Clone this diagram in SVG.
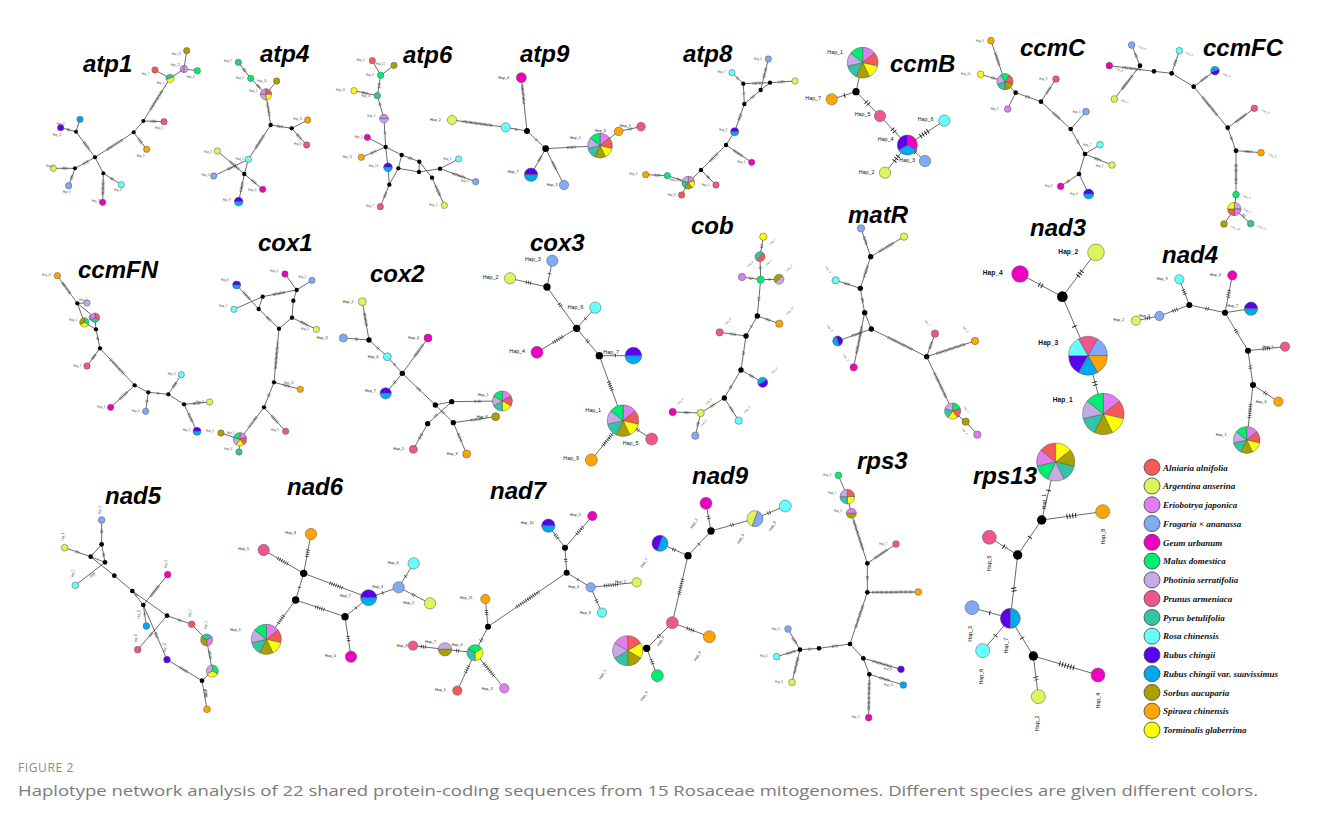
<svg xmlns="http://www.w3.org/2000/svg" width="1328" height="827" viewBox="0 0 1328 827">
<style>
text{font-family:"Liberation Sans",Arial,sans-serif}
.ttl{font-size:24px;font-weight:bold;font-style:italic;fill:#000}
.e{fill:none;stroke:#333;stroke-width:2.2}
.h{fill:none;stroke:#4a4a4a;stroke-width:9;stroke-dasharray:1.4 2.4}
.hm{fill:none;stroke:#222;stroke-width:11;stroke-dasharray:2 4.5}
.hb{fill:none;stroke:#111;stroke-width:15;stroke-dasharray:2.6 6}
.nd circle{stroke:#5a5a5a;stroke-width:1.6}
.nd circle.k{fill:#000;stroke:none}
.A{fill:#F55A5A}.B{fill:#DDF55A}.C{fill:#E07DF0}.D{fill:#80AAF5}.E{fill:#EE00C0}
.F{fill:#00EE70}.G{fill:#C5AAE5}.H{fill:#F0558F}.I{fill:#33C4A5}.J{fill:#66FFFF}
.K{fill:#5A00EE}.L{fill:#00A8F0}.M{fill:#AAA000}.N{fill:#FFA500}.O{fill:#FFFF00}
.lb{font-size:11px;fill:#222}
.lt{font-size:8px;fill:#555}
.lm{font-size:16px;fill:#111}
.lg{font-size:20px;font-weight:bold;fill:#111}
.leg circle{stroke:#444;stroke-width:0.8}
.leg text{font-family:"Liberation Serif","Times New Roman",serif;font-size:9px;font-weight:bold;font-style:italic;fill:#111}
.cap1{font-family:"Open Sans","Liberation Sans",sans-serif;font-size:12px;fill:#8a8a8a;letter-spacing:0.6px}
.cap2{font-family:"Open Sans","Liberation Sans",sans-serif;font-size:15px;fill:#7a7a7a}
</style>
<defs>
<!-- pie slices of radius 10, starting at 12 o'clock and running clockwise -->
<path id="s2" d="M0,0 L0,-10 A10,10 0 0 1 0,10 Z" stroke="#555" stroke-width="0.5" vector-effect="non-scaling-stroke"/>
<path id="s3" d="M0,0 L0,-10 A10,10 0 0 1 8.66,5 Z" stroke="#555" stroke-width="0.5" vector-effect="non-scaling-stroke"/>
<path id="s4" d="M0,0 L0,-10 A10,10 0 0 1 10,0 Z" stroke="#555" stroke-width="0.5" vector-effect="non-scaling-stroke"/>
<path id="s5" d="M0,0 L0,-10 A10,10 0 0 1 9.511,-3.09 Z" stroke="#555" stroke-width="0.5" vector-effect="non-scaling-stroke"/>
<path id="s6" d="M0,0 L0,-10 A10,10 0 0 1 8.66,-5 Z" stroke="#555" stroke-width="0.5" vector-effect="non-scaling-stroke"/>
<path id="s7" d="M0,0 L0,-10 A10,10 0 0 1 7.818,-6.235 Z" stroke="#555" stroke-width="0.5" vector-effect="non-scaling-stroke"/>
<!-- seven-species haplotype (Maleae group) -->
<g id="p7">
<use href="#s7" fill="#E07DF0"/>
<use href="#s7" fill="#F55A5A" transform="rotate(51.43)"/>
<use href="#s7" fill="#FFFF00" transform="rotate(102.86)"/>
<use href="#s7" fill="#AAA000" transform="rotate(154.29)"/>
<use href="#s7" fill="#33C4A5" transform="rotate(205.71)"/>
<use href="#s7" fill="#C5AAE5" transform="rotate(257.14)"/>
<use href="#s7" fill="#00EE70" transform="rotate(308.57)"/>
</g>
<!-- Rubus chingii / var. suavissimus shared haplotype -->
<g id="kl">
<use href="#s2" fill="#5A00EE" transform="rotate(-90)"/>
<use href="#s2" fill="#00A8F0" transform="rotate(90)"/>
</g>
</defs>

<rect width="1328" height="827" fill="#fff"/>

<!-- gene titles -->
<g id="titles" class="ttl">
<text class="ttl" x="83" y="72">atp1</text>
<text class="ttl" x="260" y="62">atp4</text>
<text class="ttl" x="403" y="63">atp6</text>
<text class="ttl" x="520" y="62">atp9</text>
<text class="ttl" x="683" y="62">atp8</text>
<text class="ttl" x="890" y="72">ccmB</text>
<text class="ttl" x="1020" y="56">ccmC</text>
<text class="ttl" x="1203" y="56">ccmFC</text>
<text class="ttl" x="78" y="278">ccmFN</text>
<text class="ttl" x="258" y="251">cox1</text>
<text class="ttl" x="370" y="282">cox2</text>
<text class="ttl" x="530" y="251">cox3</text>
<text class="ttl" x="691" y="234">cob</text>
<text class="ttl" x="848" y="223">matR</text>
<text class="ttl" x="1030" y="236">nad3</text>
<text class="ttl" x="1162" y="263">nad4</text>
<text class="ttl" x="105" y="504">nad5</text>
<text class="ttl" x="287" y="495">nad6</text>
<text class="ttl" x="490" y="499">nad7</text>
<text class="ttl" x="692" y="484">nad9</text>
<text class="ttl" x="857" y="469">rps3</text>
<text class="ttl" x="973" y="484">rps13</text>
</g>

<!-- ===== atp1, atp4 ===== -->
<g transform="translate(40 40) scale(0.333333)">
<g id="net-atp1">
<g id="atp1-links">
<path class="e" d="M440,32L432,87M472,92L432,87M432,87L390,115M345,90L390,115M390,115L310,243M310,243L372,245M310,243L281,277M281,277L320,328M281,277L165,352M165,352L108,275M108,275L120,238M108,275L62,263M165,352L105,385M105,385L40,385M105,385L86,437M165,352L190,400M190,400L244,434M190,400L188,487"/>
<path class="h" d="M366,153L330,211M332,244L350,244M295,295L306,310M246,300L200,330M148,329L131,306M90,270L80,268M144,364L129,372M82,385L66,385M97,406L93,419M212,414L222,420M189.5,422L188.5,465"/>
</g>
<g class="nd">
<circle class="M" cx="440" cy="32" r="9.5"/>
<g transform="translate(432 87) scale(1.1)"><use href="#s2" fill="#C5AAE5"/><use href="#s2" fill="#E07DF0" transform="rotate(180)"/></g>
<circle class="F" cx="472" cy="92" r="9.5"/>
<circle class="A" cx="345" cy="90" r="9.5"/>
<g transform="translate(390 115) scale(1.2)"><use href="#s2" fill="#33C4A5" transform="rotate(-110)"/><use href="#s2" fill="#FFFF00" transform="rotate(70)"/></g>
<circle class="k" cx="310" cy="243" r="6"/><circle class="k" cx="281" cy="277" r="6"/><circle class="k" cx="165" cy="352" r="6"/>
<circle class="k" cx="108" cy="275" r="6"/><circle class="k" cx="105" cy="385" r="6"/><circle class="k" cx="190" cy="400" r="6"/>
<circle class="H" cx="372" cy="245" r="9.5"/><circle class="N" cx="320" cy="328" r="9.5"/>
<circle class="L" cx="120" cy="238" r="9.5"/><circle class="K" cx="62" cy="263" r="9.5"/>
<circle class="B" cx="40" cy="385" r="9.5"/><circle class="D" cx="86" cy="437" r="9.5"/>
<circle class="J" cx="244" cy="434" r="9.5"/><circle class="E" cx="188" cy="487" r="9.5"/>
</g>
<g class="lt">
<text class="lt" x="395" y="44">Hap_13</text><text class="lt" x="392" y="77">Hap_12</text>
<text class="lt" x="305" y="105">Hap_7</text><text class="lt" x="350" y="132">Hap_1</text>
<text class="lt" x="440" y="114">Hap_6</text><text class="lt" x="345" y="268">Hap_5</text>
<text class="lt" x="290" y="350">Hap_9</text><text class="lt" x="50" y="254">Hap_4</text>
<text class="lt" x="38" y="287">Hap_11</text><text class="lt" x="18" y="380">Hap_2</text>
<text class="lt" x="68" y="460">Hap_3</text><text class="lt" x="222" y="454">Hap_8</text>
<text class="lt" x="155" y="487">Hap_10</text>
</g>
</g>
<g id="net-atp4">
<g id="atp4-links">
<path class="e" d="M595,67L632,115M632,115L678,163M710,123L678,163M678,163L692,255M692,255L755,265M755,265L803,240M755,265L800,315M692,255L625,358M625,358L613,402M532,333L613,402M521,408L625,358M613,402L668,448M613,402L596,485"/>
<path class="h" d="M610,86L617,96M651,135L660,144M682,191L688,227M711,258L730,261M771,283L784,298M672,286L645,327M569,364L597,388M563,388L589,376M635,420L649,432M608,427L602,456"/>
</g>
<g class="nd">
<circle class="I" cx="595" cy="67" r="9.5"/><circle class="F" cx="632" cy="115" r="9.5"/><circle class="M" cx="710" cy="123" r="9.5"/>
<g transform="translate(678 163) scale(1.7)"><use href="#s4" fill="#F55A5A"/><use href="#s4" fill="#FFFF00" transform="rotate(90)"/><use href="#s4" fill="#C5AAE5" transform="rotate(180)"/><use href="#s4" fill="#E07DF0" transform="rotate(270)"/></g>
<circle class="k" cx="692" cy="255" r="6.5"/><circle class="k" cx="755" cy="265" r="6.5"/><circle class="k" cx="613" cy="402" r="6.5"/>
<circle class="N" cx="803" cy="240" r="9.5"/><circle class="H" cx="800" cy="315" r="9.5"/><circle class="J" cx="625" cy="358" r="9.5"/>
<circle class="B" cx="532" cy="333" r="9.5"/><circle class="D" cx="521" cy="408" r="9.5"/><circle class="E" cx="668" cy="448" r="9.5"/>
<use href="#kl" transform="translate(596 485) scale(1.3)"/>
</g>
<g class="lt">
<text class="lt" x="552" y="67">Hap_7</text><text class="lt" x="588" y="117">Hap_6</text>
<text class="lt" x="652" y="125">Hap_10</text><text class="lt" x="628" y="155">Hap_1</text>
<text class="lt" x="760" y="240">Hap_11</text><text class="lt" x="762" y="316">Hap_8</text>
<text class="lt" x="588" y="360">Hap_2</text><text class="lt" x="492" y="340">Hap_3</text>
<text class="lt" x="485" y="407">Hap_5</text><text class="lt" x="625" y="452">Hap_4</text>
<text class="lt" x="548" y="484">Hap_9</text>
</g>
</g>
</g>

<!-- ===== atp6, atp9 ===== -->
<g transform="translate(330 40) scale(0.333333)">
<g id="net-atp6">
<g id="atp6-links">
<path class="e" d="M127,62L152,106M192,76L152,106M152,106L142,167M72,152L142,167M142,167L162,236M162,236L167,321M112,292L167,321M94,352L167,321M167,321L215,345M167,321L174,382M174,382L178,434M215,345L268,365M215,345L205,385M205,385L267,396M205,385L178,434M268,365L267,396M268,365L306,413M267,396L330,386M330,386L386,357M330,386L437,425M306,413L343,496M178,434L151,500"/>
<path class="h" d="M148,130L147,143M96,157L114,161M149,191L151,198M165,275L165,283M123,340L138,333M367,400L405,413M317,438L330,467M169,457L162,474M236,353L247,357"/>
</g>
<g class="nd">
<circle class="A" cx="127" cy="62" r="9.5"/><circle class="M" cx="192" cy="76" r="9.5"/><circle class="F" cx="152" cy="106" r="9.5"/>
<circle class="O" cx="72" cy="152" r="9.5"/><circle class="I" cx="142" cy="167" r="9.5"/>
<g transform="translate(162 236) scale(1.3)"><use href="#s2" fill="#E07DF0" transform="rotate(-90)"/><use href="#s2" fill="#C5AAE5" transform="rotate(90)"/></g>
<circle class="E" cx="112" cy="292" r="9.5"/><circle class="k" cx="167" cy="321" r="6.5"/><circle class="N" cx="94" cy="352" r="9.5"/>
<circle class="k" cx="215" cy="345" r="6.5"/>
<use href="#kl" transform="translate(174 382) scale(1.3)"/>
<circle class="k" cx="205" cy="385" r="6.5"/><circle class="k" cx="268" cy="365" r="6.5"/><circle class="k" cx="267" cy="396" r="6.5"/>
<circle class="J" cx="386" cy="357" r="9.5"/><circle class="k" cx="330" cy="386" r="6.5"/><circle class="k" cx="306" cy="413" r="6.5"/>
<circle class="D" cx="437" cy="425" r="9.5"/><circle class="k" cx="178" cy="434" r="6.5"/>
<circle class="H" cx="151" cy="500" r="9.5"/><circle class="B" cx="343" cy="496" r="9.5"/>
</g>
<g class="lt">
<text class="lt" x="80" y="64">Hap_1</text><text class="lt" x="138" y="76">Hap_11</text>
<text class="lt" x="108" y="108">Hap_9</text><text class="lt" x="18" y="154">Hap_12</text>
<text class="lt" x="94" y="170">Hap_10</text><text class="lt" x="112" y="232">Hap_3</text>
<text class="lt" x="74" y="294">Hap_5</text><text class="lt" x="38" y="354">Hap_13</text>
<text class="lt" x="116" y="380">Hap_14</text><text class="lt" x="340" y="360">Hap_4</text>
<text class="lt" x="393" y="427">Hap_6</text><text class="lt" x="298" y="497">Hap_2</text>
<text class="lt" x="108" y="502">Hap_7</text>
</g>
</g>
<g id="net-atp9">
<g id="atp9-links">
<path class="e" d="M574,113L591,273M366,240L527,262M527,262L591,273M591,273L647,326M647,326L810,317M647,326L603,404M647,326L702,435M810,317L866,274M866,274L933,260"/>
<path class="h" d="M576.5,137L582.5,193M398,244L487,256.5M556,268L562,269M617,298L621,302M712,322.5L737,321M634,349L625,365M666,364L680,391M896,268L906,266"/>
</g>
<g class="nd">
<circle class="E" cx="574" cy="113" r="15"/><circle class="B" cx="366" cy="240" r="14"/><circle class="J" cx="527" cy="262" r="14"/>
<circle class="k" cx="591" cy="273" r="9"/><circle class="k" cx="647" cy="326" r="10"/>
<use href="#p7" transform="translate(810 317) scale(3.7)"/>
<circle class="N" cx="866" cy="274" r="13"/><circle class="H" cx="933" cy="260" r="13"/>
<use href="#kl" transform="translate(603 404) scale(2)"/>
<circle class="D" cx="702" cy="435" r="14"/>
</g>
<g class="lb">
<text class="lb" x="505" y="117">Hap_4</text><text class="lb" x="300" y="243">Hap_2</text>
<text class="lb" x="720" y="296">Hap_1</text><text class="lb" x="795" y="276">Hap_6</text>
<text class="lb" x="870" y="262">Hap_5</text><text class="lb" x="533" y="400">Hap_7</text>
<text class="lb" x="650" y="437">Hap_3</text>
</g>
</g>
</g>

<!-- ===== atp8, ccmB ===== -->
<g transform="translate(620 30) scale(0.333333)">
<g id="net-atp8">
<g id="atp8-links">
<path class="e" d="M445,87L422,180M336,128L370,161M370,161L450,158M450,158L525,153M370,161L373,222M450,158L422,180M422,180L373,222M373,222L344,305M344,305L318,345M318,345L395,397M318,345L243,420M243,420L288,465M243,420L205,458M205,458L185,495M205,458L142,437M142,437L77,434"/>
<path class="h" d="M438,115L431,143M351,143L357,148M398,160L422,159M476,156L495,155M371,188L372,195M402,197L393,205M363,251L356,272M341,361L368,379M292,371L269,394M261,438L268,445M183,451L170,446M119,436L103,435"/>
</g>
<g class="nd">
<circle class="D" cx="445" cy="87" r="9.5"/><circle class="J" cx="336" cy="128" r="9.5"/>
<circle class="k" cx="370" cy="161" r="6.5"/><circle class="k" cx="450" cy="158" r="6.5"/>
<circle class="B" cx="525" cy="153" r="9.5"/><circle class="k" cx="422" cy="180" r="6.5"/><circle class="k" cx="373" cy="222" r="6.5"/>
<use href="#kl" transform="translate(344 305) scale(1.2)"/>
<circle class="k" cx="318" cy="345" r="6.5"/><circle class="E" cx="395" cy="397" r="9.5"/>
<circle class="k" cx="243" cy="420" r="6.5"/><circle class="H" cx="288" cy="465" r="9.5"/>
<g transform="translate(205 458) scale(1.9)"><use href="#s5" fill="#E07DF0"/><use href="#s5" fill="#FFFF00" transform="rotate(72)"/><use href="#s5" fill="#AAA000" transform="rotate(144)"/><use href="#s5" fill="#33C4A5" transform="rotate(216)"/><use href="#s5" fill="#C5AAE5" transform="rotate(288)"/></g>
<circle class="A" cx="185" cy="495" r="9.5"/><circle class="F" cx="142" cy="437" r="9.5"/><circle class="N" cx="77" cy="434" r="9.5"/>
</g>
<g class="lt">
<text class="lt" x="402" y="89">Hap_6</text><text class="lt" x="293" y="130">Hap_7</text>
<text class="lt" x="298" y="302">Hap_2</text><text class="lt" x="352" y="399">Hap_5</text>
<text class="lt" x="245" y="467">Hap_4</text><text class="lt" x="143" y="497">Hap_8</text>
<text class="lt" x="28" y="436">Hap_9</text><text class="lt" x="150" y="452">Hap_1</text>
</g>
</g>
<g id="net-ccmB">
<g id="ccmB-links">
<path class="e" d="M728,98L708,185M708,185L635,208M708,185L780,258M780,258L862,345M862,345L973,272M862,345L915,393M862,345L795,428"/>
<path class="hb" d="M675,196L668,198M738,215L748,225M817,297L829,310M901,319L925,303M885,366L890,370M835,378L822,395"/>
</g>
<g class="nd">
<use href="#p7" transform="translate(728 98) scale(4.6)"/>
<circle class="k" cx="708" cy="185" r="11"/>
<circle class="N" cx="635" cy="208" r="17"/><circle class="H" cx="780" cy="258" r="17"/>
<g transform="translate(862 345) scale(3)"><use href="#s3" fill="#EE00C0"/><use href="#s3" fill="#00A8F0" transform="rotate(120)"/><use href="#s3" fill="#5A00EE" transform="rotate(240)"/></g>
<circle class="J" cx="973" cy="272" r="17"/><circle class="D" cx="915" cy="393" r="17"/><circle class="B" cx="795" cy="428" r="17"/>
</g>
<g class="lm">
<text class="lm" x="622" y="72">Hap_1</text><text class="lm" x="556" y="211">Hap_7</text>
<text class="lm" x="704" y="259">Hap_5</text><text class="lm" x="773" y="334">Hap_4</text>
<text class="lm" x="893" y="274">Hap_6</text><text class="lm" x="838" y="396">Hap_3</text>
<text class="lm" x="716" y="431">Hap_2</text>
</g>
</g>
</g>

<!-- ===== ccmC, ccmFC ===== -->
<g transform="translate(950 30) scale(0.333333)">
<g id="net-ccmC">
<g id="ccmC-links">
<path class="e" d="M123,32L165,155M92,133L165,155M165,155L197,188M197,188L173,237M197,188L273,215M273,215L318,147M273,215L362,297M362,297L408,245M362,297L405,372M405,372L450,344M405,372L486,405M405,372L387,432M387,432L332,469M387,432L416,492"/>
<path class="h" d="M136,69L148,106M125,143L136,146M227,199L239,203M289,191L302,171M309,248L331,268M381,331L386,339M433,384L454,392M357,452L349,458"/>
</g>
<g class="nd">
<circle class="N" cx="123" cy="32" r="10"/><circle class="O" cx="92" cy="133" r="10"/>
<g transform="translate(165 155) scale(2.4)"><use href="#s5" fill="#00EE70" transform="rotate(-36)"/><use href="#s5" fill="#F55A5A" transform="rotate(36)"/><use href="#s5" fill="#AAA000" transform="rotate(108)"/><use href="#s5" fill="#33C4A5" transform="rotate(180)"/><use href="#s5" fill="#C5AAE5" transform="rotate(252)"/></g>
<circle class="k" cx="197" cy="188" r="7"/><circle class="C" cx="173" cy="237" r="10"/>
<circle class="k" cx="273" cy="215" r="7"/><circle class="H" cx="318" cy="147" r="10"/>
<circle class="k" cx="362" cy="297" r="7"/><circle class="D" cx="408" cy="245" r="10"/>
<circle class="k" cx="405" cy="372" r="7"/><circle class="J" cx="450" cy="344" r="10"/><circle class="B" cx="486" cy="405" r="10"/>
<circle class="k" cx="387" cy="432" r="7"/><circle class="E" cx="332" cy="469" r="10"/>
<use href="#kl" transform="translate(416 492) scale(1.5)"/>
</g>
<g class="lt">
<text class="lt" x="78" y="35">Hap_9</text><text class="lt" x="33" y="136">Hap_10</text>
<text class="lt" x="268" y="150">Hap_8</text><text class="lt" x="122" y="240">Hap_3</text>
<text class="lt" x="368" y="248">Hap_4</text><text class="lt" x="400" y="347">Hap_7</text>
<text class="lt" x="437" y="410">Hap_2</text><text class="lt" x="285" y="472">Hap_5</text>
<text class="lt" x="360" y="495">Hap_6</text>
</g>
</g>
<g id="net-ccmFC">
<g id="ccmFC-links">
<path class="e" d="M478,107L612,124M545,45L570,107M570,107L493,207M612,124L665,130M665,130L688,62M665,130L731,170M731,170L795,122M731,170L833,293M833,293L913,235M833,293L858,362M858,362L933,368M858,362L858,494M858,494L853,537M853,537L822,582M853,537L902,581"/>
<path class="h" d="M518,112L572,119M555,70L560,82M547,137L516,177M673,106L679,88M753,153L773,139M757,201L802,256M857,276L889,252M843,321L846,331M884,364L907,366M858,402L858,461M878,554L885,561"/>
</g>
<g class="nd">
<circle class="D" cx="545" cy="45" r="10"/><circle class="J" cx="688" cy="62" r="10"/><circle class="E" cx="478" cy="107" r="10"/>
<circle class="k" cx="570" cy="107" r="7"/><circle class="k" cx="612" cy="124" r="7"/><circle class="k" cx="665" cy="130" r="7"/>
<circle class="B" cx="493" cy="207" r="10"/>
<use href="#kl" transform="translate(795 122) scale(1.3) rotate(160)"/>
<circle class="k" cx="731" cy="170" r="7"/><circle class="H" cx="913" cy="235" r="10"/>
<circle class="k" cx="833" cy="293" r="7"/><circle class="k" cx="858" cy="362" r="7"/>
<circle class="N" cx="933" cy="368" r="10"/><circle class="F" cx="858" cy="494" r="10"/>
<g transform="translate(853 537) scale(2)"><use href="#s4" fill="#C5AAE5"/><use href="#s4" fill="#E07DF0" transform="rotate(90)"/><use href="#s4" fill="#F55A5A" transform="rotate(180)"/><use href="#s4" fill="#FFFF00" transform="rotate(270)"/></g>
<circle class="M" cx="822" cy="582" r="10"/><circle class="I" cx="902" cy="581" r="10"/>
</g>
<g class="lt">
<text class="lt" transform="translate(565 52) rotate(20)">Hap_6</text>
<text class="lt" transform="translate(706 70) rotate(20)">Hap_5</text>
<text class="lt" transform="translate(496 117) rotate(20)">Hap_4</text>
<text class="lt" transform="translate(512 212) rotate(20)">Hap_2</text>
<text class="lt" transform="translate(818 134) rotate(20)">Hap_9</text>
<text class="lt" transform="translate(935 243) rotate(20)">Hap_8</text>
<text class="lt" transform="translate(955 375) rotate(20)">Hap_3</text>
<text class="lt" transform="translate(878 500) rotate(20)">Hap_7</text>
<text class="lt" transform="translate(880 540) rotate(20)">Hap_1</text>
<text class="lt" transform="translate(842 592) rotate(20)">Hap_10</text>
<text class="lt" transform="translate(922 590) rotate(20)">Hap_11</text>
</g>
</g>
</g>

<!-- ===== ccmFN, cox1 ===== -->
<g transform="translate(40 240) scale(0.333333)">
<g id="net-ccmFN">
<g id="ccmFN-links">
<path class="e" d="M52,107L112,190M112,190L141,189M112,190L165,233M112,190L133,247M133,247L168,268M165,233L168,268M168,268L180,325M180,325L141,378M180,325L284,436M284,436L212,502M284,436L325,457M325,457L317,514M325,457L385,463M385,463L424,404M385,463L432,493M432,493L509,486M432,493L471,574"/>
<path class="h" d="M67,128L91,161M172,291L175,302M166,344L155,359M211,358L253,403M262,456L237,479M321,480L320,488M352,460L358,460M399,442L408,428M459,491L482,489M446,521L457,546"/>
</g>
<g class="nd">
<circle class="N" cx="52" cy="107" r="9.5"/><circle class="k" cx="112" cy="190" r="6.5"/><circle class="G" cx="141" cy="189" r="9.5"/>
<g transform="translate(133 247) scale(1.4)"><use href="#s3" fill="#00EE70"/><use href="#s3" fill="#FFFF00" transform="rotate(120)"/><use href="#s3" fill="#AAA000" transform="rotate(240)"/></g>
<circle class="C" cx="155" cy="233" r="8"/>
<g transform="translate(165 233) scale(1.4)"><use href="#s3" fill="#F55A5A"/><use href="#s3" fill="#33C4A5" transform="rotate(120)"/><use href="#s3" fill="#E07DF0" transform="rotate(240)"/></g>
<circle class="k" cx="168" cy="268" r="6.5"/><circle class="k" cx="180" cy="325" r="6.5"/><circle class="H" cx="141" cy="378" r="9.5"/>
<circle class="k" cx="284" cy="436" r="6.5"/><circle class="E" cx="212" cy="502" r="9.5"/>
<circle class="k" cx="325" cy="457" r="6.5"/><circle class="D" cx="317" cy="514" r="9.5"/>
<circle class="k" cx="385" cy="463" r="6.5"/><circle class="J" cx="424" cy="404" r="9.5"/>
<circle class="k" cx="432" cy="493" r="6.5"/><circle class="B" cx="509" cy="486" r="9.5"/>
<use href="#kl" transform="translate(471 574) scale(1.2)"/>
</g>
<g class="lt">
<text class="lt" x="6" y="109">Hap_11</text><text class="lt" x="118" y="182">Hap_4</text>
<text class="lt" x="88" y="242">Hap_1</text><text class="lt" x="100" y="380">Hap_7</text>
<text class="lt" x="172" y="504">Hap_3</text><text class="lt" x="275" y="516">Hap_6</text>
<text class="lt" x="383" y="406">Hap_9</text><text class="lt" x="468" y="488">Hap_8</text>
<text class="lt" x="428" y="574">Hap_5</text>
</g>
</g>
<g id="net-cox1">
<g id="cox1-links">
<path class="e" d="M590,135L656,207M582,208L668,170M668,170L656,207M668,170L770,150M770,150L735,102M770,150L816,121M770,150L760,182M760,182L756,233M756,233L829,268M756,233L717,266M656,207L717,266M717,266L702,427M702,427L781,448M702,427L672,502M672,502L737,574M672,502L600,598M600,598L543,579M600,598L597,636"/>
<path class="h" d="M610,157L630,178M699,164L734,157M782,245L803,256M680,231L692,243M713,306L706,387M730,434L749,440M688,461L684,472M695,527L714,549M650,531L625,564"/>
</g>
<g class="nd">
<circle class="E" cx="735" cy="102" r="9.5"/><circle class="D" cx="816" cy="121" r="9.5"/>
<use href="#kl" transform="translate(590 135) scale(1.2)"/>
<circle class="k" cx="668" cy="170" r="6.5"/><circle class="k" cx="770" cy="150" r="6.5"/><circle class="k" cx="760" cy="182" r="6.5"/>
<circle class="J" cx="582" cy="208" r="9.5"/><circle class="k" cx="656" cy="207" r="6.5"/><circle class="k" cx="756" cy="233" r="6.5"/>
<circle class="k" cx="717" cy="266" r="6.5"/><circle class="B" cx="829" cy="268" r="9.5"/>
<circle class="k" cx="702" cy="427" r="6.5"/><circle class="N" cx="781" cy="448" r="9.5"/>
<circle class="k" cx="672" cy="502" r="6.5"/><circle class="H" cx="737" cy="574" r="9.5"/>
<g transform="translate(600 598) scale(2)"><use href="#s5" fill="#E07DF0"/><use href="#s5" fill="#F55A5A" transform="rotate(72)"/><use href="#s5" fill="#FFFF00" transform="rotate(144)"/><use href="#s5" fill="#C5AAE5" transform="rotate(216)"/><use href="#s5" fill="#00EE70" transform="rotate(288)"/></g>
<circle class="M" cx="543" cy="579" r="9.5"/><circle class="I" cx="597" cy="636" r="9.5"/>
</g>
<g class="lt">
<text class="lt" x="543" y="122">Hap_8</text><text class="lt" x="538" y="202">Hap_7</text>
<text class="lt" x="690" y="97">Hap_4</text><text class="lt" x="775" y="114">Hap_2</text>
<text class="lt" x="783" y="270">Hap_3</text><text class="lt" x="733" y="432">Hap_10</text>
<text class="lt" x="693" y="572">Hap_5</text><text class="lt" x="498" y="575">Hap_9</text>
<text class="lt" x="553" y="630">Hap_6</text><text class="lt" x="560" y="582">Hap_1</text>
</g>
</g>
</g>

<!-- ===== cox2, cox3 ===== -->
<g transform="translate(330 240) scale(0.333333)">
<g id="net-cox2">
<g id="cox2-links">
<path class="e" d="M97,185L117,300M40,294L117,300M117,300L172,350M172,350L217,400M294,294L217,400M217,400L167,460M217,400L316,495M316,495L365,485M365,485L517,483M316,495L370,548M370,548L497,530M370,548L410,642M365,485L293,551M293,551L250,628"/>
<path class="h" d="M103,219L110,260M75,297L86,298M142,323L147,327M192,372L197,378M279,315L252,352M197,424L190,432M261,443L272,453M433,484L456,484M335,514L343,522M421,541L459,535M384,581L394,604M322,523L311,533M276,582L267,597"/>
</g>
<g class="nd">
<circle class="B" cx="97" cy="185" r="12"/><circle class="D" cx="40" cy="294" r="12"/><circle class="k" cx="117" cy="300" r="8"/>
<circle class="J" cx="172" cy="350" r="12"/><circle class="E" cx="294" cy="294" r="12"/><circle class="k" cx="217" cy="400" r="8"/>
<use href="#kl" transform="translate(167 460) scale(1.7)"/>
<circle class="k" cx="316" cy="495" r="8"/><circle class="k" cx="365" cy="485" r="8"/>
<g transform="translate(517 483) scale(3)"><use href="#s6" fill="#E07DF0"/><use href="#s6" fill="#F55A5A" transform="rotate(60)"/><use href="#s6" fill="#FFFF00" transform="rotate(120)"/><use href="#s6" fill="#33C4A5" transform="rotate(180)"/><use href="#s6" fill="#C5AAE5" transform="rotate(240)"/><use href="#s6" fill="#00EE70" transform="rotate(300)"/></g>
<circle class="M" cx="497" cy="530" r="12"/><circle class="k" cx="370" cy="548" r="8"/><circle class="k" cx="293" cy="551" r="8"/>
<circle class="H" cx="250" cy="628" r="12"/><circle class="N" cx="410" cy="642" r="12"/>
</g>
<g class="lb">
<text class="lb" x="38" y="188">Hap_2</text><text class="lb" x="-40" y="297">Hap_3</text>
<text class="lb" x="113" y="353">Hap_6</text><text class="lb" x="235" y="297">Hap_4</text>
<text class="lb" x="105" y="456">Hap_7</text><text class="lb" x="443" y="468">Hap_1</text>
<text class="lb" x="440" y="533">Hap_8</text><text class="lb" x="190" y="631">Hap_5</text>
<text class="lb" x="350" y="644">Hap_9</text>
</g>
</g>
<g id="net-cox3">
<g id="cox3-links">
<path class="e" d="M667,62L651,141M540,115L651,141M651,141L740,265M740,265L796,203M740,265L621,337M740,265L808,347M808,347L910,347M808,347L879,542M879,542L965,597M879,542L784,660"/>
<path class="hm" d="M659,100L658,106M588,126L604,130M687,191L695,202M765,237L770,232M698,290L669,308M770,300L776,307M856,347L860,347M836,425L847,454M914,564L927,573M846,583L817,619"/>
</g>
<g class="nd">
<circle class="D" cx="667" cy="62" r="17"/><circle class="B" cx="540" cy="115" r="17"/><circle class="k" cx="651" cy="141" r="11"/>
<circle class="J" cx="796" cy="203" r="17"/><circle class="k" cx="740" cy="265" r="11"/><circle class="E" cx="621" cy="337" r="18"/>
<circle class="k" cx="808" cy="347" r="11"/>
<use href="#kl" transform="translate(910 347) scale(2.5)"/>
<use href="#p7" transform="translate(879 542) scale(4.7)"/>
<circle class="H" cx="965" cy="597" r="18"/><circle class="N" cx="784" cy="660" r="18"/>
</g>
<g class="lm">
<text class="lm" x="585" y="64">Hap_3</text><text class="lm" x="458" y="116">Hap_2</text>
<text class="lm" x="713" y="206">Hap_6</text><text class="lm" x="538" y="339">Hap_4</text>
<text class="lm" x="820" y="342">Hap_7</text><text class="lm" x="766" y="516">Hap_1</text>
<text class="lm" x="878" y="614">Hap_5</text><text class="lm" x="700" y="661">Hap_9</text>
</g>
</g>
</g>

<!-- ===== cob, matR ===== -->
<g transform="translate(660 230) scale(0.333333)">
<g id="net-cob">
<g id="cob-links">
<path class="e" d="M310,20L300,80M300,80L302,149M246,141L302,149M302,149L357,148M302,149L292,258M292,258L358,281M292,258L258,318M258,318L179,307M258,318L243,420M243,420L308,457M243,420L193,504M193,504L236,572M193,504L122,549M122,549L38,546M122,549L106,617"/>
<path class="h" d="M306,44L305,55M301,110L301,118M268,144L279,146M326,148L333,148M297,202L296,213M318,267L331,271M275,288L273,292M211,311L227,314M251,365L249,375M269,435L282,442M215,467L210,475M210,531L219,545M164,522L151,531M88,548L72,547M115,576L112,590"/>
</g>
<g class="nd">
<circle class="O" cx="310" cy="20" r="11"/>
<g transform="translate(300 80) scale(1.5)"><use href="#s2" fill="#33C4A5" transform="rotate(-135)"/><use href="#s2" fill="#F55A5A" transform="rotate(45)"/></g>
<circle class="C" cx="246" cy="141" r="11"/><circle class="F" cx="302" cy="149" r="11"/>
<g transform="translate(357 148) scale(1.5)"><use href="#s2" fill="#AAA000" transform="rotate(-135)"/><use href="#s2" fill="#C5AAE5" transform="rotate(45)"/></g>
<circle class="k" cx="292" cy="258" r="8"/><circle class="N" cx="358" cy="281" r="11"/><circle class="H" cx="179" cy="307" r="11"/>
<circle class="k" cx="258" cy="318" r="8"/><circle class="k" cx="243" cy="420" r="8"/>
<g transform="translate(308 457) scale(1.5)"><use href="#s2" fill="#00A8F0" transform="rotate(-120)"/><use href="#s2" fill="#5A00EE" transform="rotate(60)"/></g>
<circle class="k" cx="193" cy="504" r="8"/><circle class="J" cx="236" cy="572" r="11"/><circle class="B" cx="122" cy="549" r="11"/>
<circle class="E" cx="38" cy="546" r="11"/><circle class="D" cx="106" cy="617" r="11"/>
</g>
<g class="lt">
<text class="lt" transform="translate(332 45) rotate(-50)">Hap_7</text>
<text class="lt" transform="translate(265 112) rotate(-50)">Hap_5</text>
<text class="lt" transform="translate(320 108) rotate(-50)">Hap_1</text>
<text class="lt" transform="translate(382 125) rotate(-50)">Hap_8</text>
<text class="lt" transform="translate(382 255) rotate(-50)">Hap_10</text>
<text class="lt" transform="translate(198 285) rotate(-50)">Hap_9</text>
<text class="lt" transform="translate(337 432) rotate(-50)">Hap_4</text>
<text class="lt" transform="translate(55 525) rotate(-50)">Hap_3</text>
<text class="lt" transform="translate(140 525) rotate(-50)">Hap_2</text>
<text class="lt" transform="translate(125 590) rotate(-50)">Hap_6</text>
<text class="lt" transform="translate(255 550) rotate(-50)">Hap_11</text>
</g>
</g>
<g id="net-matR">
<g id="matR-links">
<path class="e" d="M603,-5L632,80M632,80L732,20M632,80L601,175M601,175L527,151M601,175L614,248M614,248L634,297M614,248L581,412M634,297L533,333M634,297L800,380M800,380L825,311M800,380L945,333M800,380L878,543M878,543L917,575M917,575L952,614"/>
<path class="h" d="M612,20L620,45M657,65L702,38M623,108L612,142M553,159L571,165M606,204L609,219M606,289L589,371M604,308L574,318M684,322L759,359M809,356L816,335M829,371L916,342M823,429L858,502"/>
</g>
<g class="nd">
<circle class="D" cx="603" cy="-5" r="11"/><circle class="B" cx="732" cy="20" r="11"/><circle class="k" cx="632" cy="80" r="8"/>
<circle class="J" cx="527" cy="151" r="11"/><circle class="k" cx="601" cy="175" r="8"/><circle class="k" cx="614" cy="248" r="8"/><circle class="k" cx="634" cy="297" r="8"/>
<use href="#kl" transform="translate(533 333) scale(1.5) rotate(70)"/>
<circle class="E" cx="581" cy="412" r="11"/><circle class="k" cx="800" cy="380" r="8"/>
<circle class="H" cx="825" cy="311" r="11"/><circle class="N" cx="945" cy="333" r="11"/>
<g transform="translate(878 543) scale(2.4)"><use href="#s5" fill="#00EE70"/><use href="#s5" fill="#F55A5A" transform="rotate(72)"/><use href="#s5" fill="#FFFF00" transform="rotate(144)"/><use href="#s5" fill="#33C4A5" transform="rotate(216)"/><use href="#s5" fill="#C5AAE5" transform="rotate(288)"/></g>
<circle class="M" cx="917" cy="575" r="11"/><circle class="C" cx="952" cy="614" r="11"/>
</g>
<g class="lt">
<text class="lt" transform="translate(495 112) rotate(50)">Hap_6</text>
<text class="lt" transform="translate(500 288) rotate(50)">Hap_9</text>
<text class="lt" transform="translate(548 376) rotate(50)">Hap_2</text>
<text class="lt" transform="translate(793 272) rotate(50)">Hap_7</text>
<text class="lt" transform="translate(907 290) rotate(50)">Hap_5</text>
<text class="lt" transform="translate(910 532) rotate(50)">Hap_1</text>
<text class="lt" transform="translate(905 597) rotate(50)">Hap_8</text>
</g>
</g>
</g>

<!-- ===== nad3, nad4 ===== -->
<g transform="translate(990 240) scale(0.333333)">
<g id="net-nad3">
<g id="nad3-links">
<path class="e" d="M90,102L217,170M318,37L217,170M217,170L294,347M294,347L340,522"/>
<path class="hb" d="M147,133L160,140M276,93L262,111M253,258L256,264M313,425L318,441"/>
</g>
<g class="nd">
<circle class="B" cx="318" cy="37" r="25"/><circle class="E" cx="90" cy="102" r="25"/><circle class="k" cx="217" cy="170" r="16"/>
<g transform="translate(294 347) scale(5.8)"><use href="#s6" fill="#F0558F" transform="rotate(-30)"/><use href="#s6" fill="#80AAF5" transform="rotate(30)"/><use href="#s6" fill="#FFA500" transform="rotate(90)"/><use href="#s6" fill="#00A8F0" transform="rotate(150)"/><use href="#s6" fill="#5A00EE" transform="rotate(210)"/><use href="#s6" fill="#66FFFF" transform="rotate(270)"/></g>
<use href="#p7" transform="translate(340 522) scale(6.2)"/>
</g>
<g class="lg">
<text class="lg" x="205" y="41">Hap_2</text><text class="lg" x="-22" y="106">Hap_4</text>
<text class="lg" x="145" y="315">Hap_3</text><text class="lg" x="188" y="487">Hap_1</text>
</g>
</g>
<g id="net-nad4">
<g id="nad4-links">
<path class="e" d="M568,118L598,195M598,195L508,228M508,228L438,242M598,195L705,218M705,218L727,106M705,218L783,206M705,218L774,332M774,332L885,320M774,332L789,435M789,435L865,485M789,435L770,600"/>
<path class="hm" d="M580,149L586,164M562,208L544,215M480,234L466,236M647,205L656,207M718,151L714,173M736,269L743,281M818,327L840,325M780,377L782,390M823,457L831,463M782,493L778,534"/>
</g>
<g class="nd">
<circle class="J" cx="568" cy="118" r="14"/><circle class="E" cx="727" cy="106" r="14"/>
<circle class="k" cx="598" cy="195" r="9"/><circle class="k" cx="705" cy="218" r="9"/>
<use href="#kl" transform="translate(783 206) scale(2)"/>
<circle class="D" cx="508" cy="228" r="14"/><circle class="B" cx="438" cy="242" r="14"/>
<circle class="k" cx="774" cy="332" r="9"/><circle class="H" cx="885" cy="320" r="14"/>
<circle class="k" cx="789" cy="435" r="9"/><circle class="N" cx="865" cy="485" r="14"/>
<use href="#p7" transform="translate(770 600) scale(4)"/>
</g>
<g class="lb">
<text class="lb" x="500" y="121">Hap_9</text><text class="lb" x="660" y="107">Hap_4</text>
<text class="lb" x="712" y="201">Hap_7</text><text class="lb" x="448" y="231">Hap_3</text>
<text class="lb" x="370" y="244">Hap_2</text><text class="lb" x="818" y="323">Hap_5</text>
<text class="lb" x="797" y="488">Hap_6</text><text class="lb" x="677" y="587">Hap_1</text>
</g>
</g>
</g>

<!-- ===== nad5, nad6 ===== -->
<g transform="translate(50 460) scale(0.333333)">
<g id="net-nad5">
<g id="nad5-links">
<path class="e" d="M155,180L155,253M155,253L122,290M155,253L165,307M122,290L165,307M122,290L44,263M165,307L76,376M122,290L193,347M193,347L247,393M247,393L280,435M247,393L351,467M280,435L353,344M280,435L289,498M351,467L425,493M351,467L263,569M280,435L351,599M425,493L470,540M470,540L487,633M487,633L456,662M351,599L456,662M456,662L471,748"/>
<path class="h" d="M155,209L155,220M86,277L75,274M134,339L120,350M302,408L327,376M284,460L285,468M384,479L395,483M307,518L298,529M316,518L323,536M478,573L483,598M388,621L414,637M465,688L469,714M160,280L162,290M255,402L262,410"/>
</g>
<g class="nd">
<circle class="D" cx="155" cy="180" r="10"/><circle class="B" cx="44" cy="263" r="10"/>
<circle class="k" cx="155" cy="253" r="7"/><circle class="k" cx="122" cy="290" r="7"/><circle class="k" cx="165" cy="307" r="7"/>
<circle class="J" cx="76" cy="376" r="10"/><circle class="k" cx="193" cy="347" r="7"/><circle class="E" cx="353" cy="344" r="10"/>
<circle class="k" cx="247" cy="393" r="7"/><circle class="k" cx="280" cy="435" r="7"/><circle class="L" cx="289" cy="498" r="10"/>
<circle class="k" cx="351" cy="467" r="7"/><circle class="A" cx="425" cy="493" r="10"/><circle class="H" cx="263" cy="569" r="10"/>
<g transform="translate(470 540) scale(1.8)"><use href="#s3" fill="#33C4A5" transform="rotate(-60)"/><use href="#s3" fill="#E07DF0" transform="rotate(60)"/><use href="#s3" fill="#AAA000" transform="rotate(180)"/></g>
<circle class="K" cx="351" cy="599" r="10"/>
<g transform="translate(487 633) scale(1.8)"><use href="#s3" fill="#00EE70"/><use href="#s3" fill="#FFFF00" transform="rotate(120)"/><use href="#s3" fill="#C5AAE5" transform="rotate(240)"/></g>
<circle class="k" cx="456" cy="662" r="7"/><circle class="N" cx="471" cy="748" r="10"/>
</g>
<g class="lt">
<text class="lt" transform="translate(152 150) rotate(-90)" text-anchor="middle">Hap_4</text>
<text class="lt" transform="translate(42 230) rotate(-90)" text-anchor="middle">Hap_9</text>
<text class="lt" transform="translate(72 340) rotate(-90)" text-anchor="middle">Hap_7</text>
<text class="lt" transform="translate(350 312) rotate(-90)" text-anchor="middle">Hap_5</text>
<text class="lt" transform="translate(270 462) rotate(-90)" text-anchor="middle">Hap_11</text>
<text class="lt" transform="translate(260 535) rotate(-90)" text-anchor="middle">Hap_8</text>
<text class="lt" transform="translate(422 460) rotate(-90)" text-anchor="middle">Hap_2</text>
<text class="lt" transform="translate(470 495) rotate(-90)" text-anchor="middle">Hap_1</text>
<text class="lt" transform="translate(348 562) rotate(-90)" text-anchor="middle">Hap_10</text>
<text class="lt" transform="translate(472 700) rotate(-90)" text-anchor="middle">Hap_6</text>
</g>
</g>
<g id="net-nad6">
<g id="nad6-links">
<path class="e" d="M783,222L761,340M641,270L761,340M761,340L737,420M761,340L956,413M737,420L885,470M885,470L956,413M956,413L1046,382M1046,382L1091,310M1046,382L1140,430M737,420L649,538M885,470L903,590"/>
<path class="hm" d="M774,269L770,293M683,295L713,312M748,381L747,385M839,369L878,384M796,440L826,450M917,444L922,440M997,399L1002,397M1066,350L1070,344M1087,403L1094,407M701,467L684,491M894,528L896,543"/>
</g>
<g class="nd">
<circle class="N" cx="783" cy="222" r="17"/><circle class="H" cx="641" cy="270" r="17"/>
<circle class="k" cx="761" cy="340" r="11"/><circle class="k" cx="737" cy="420" r="11"/>
<circle class="J" cx="1091" cy="310" r="17"/><circle class="D" cx="1046" cy="382" r="17"/>
<use href="#kl" transform="translate(956 413) scale(2.4)"/>
<circle class="B" cx="1140" cy="430" r="17"/><circle class="k" cx="885" cy="470" r="11"/>
<use href="#p7" transform="translate(649 538) scale(4.5)"/>
<circle class="E" cx="903" cy="590" r="17"/>
</g>
<g class="lb">
<text class="lb" x="706" y="223">Hap_8</text><text class="lb" x="565" y="271">Hap_5</text>
<text class="lb" x="1013" y="311">Hap_6</text><text class="lb" x="967" y="383">Hap_3</text>
<text class="lb" x="870" y="410">Hap_7</text><text class="lb" x="1060" y="431">Hap_2</text>
<text class="lb" x="540" y="512">Hap_1</text><text class="lb" x="825" y="591">Hap_4</text>
</g>
</g>
</g>

<!-- ===== nad7, nad9 ===== -->
<g transform="translate(430 460) scale(0.333333)">
<g id="net-nad7">
<g id="nad7-links">
<path class="e" d="M355,197L405,263M487,168L405,263M405,263L410,338M410,338L482,382M482,382L620,367M482,382L516,458M410,338L174,500M174,500L166,417M174,500L135,578M135,578L45,568M45,568L-51,557M135,578L82,692M135,578L223,685"/>
<path class="hm" d="M375,223L385,237M458,201L438,225M407,297L408,305M442,358L448,361M523,377L565,373M498,419L502,428M327,395L257,443M169,450L170,467M152,543L157,537M87,573L74,571M-12,561L-32,559M116,618L105,642M161,610L192,648"/>
</g>
<g class="nd">
<use href="#kl" transform="translate(355 197) scale(2)"/>
<circle class="E" cx="487" cy="168" r="14"/><circle class="k" cx="405" cy="263" r="9"/><circle class="k" cx="410" cy="338" r="9"/>
<circle class="D" cx="482" cy="382" r="14"/><circle class="B" cx="620" cy="367" r="14"/><circle class="J" cx="516" cy="458" r="14"/>
<circle class="N" cx="166" cy="417" r="14"/><circle class="k" cx="174" cy="500" r="9"/>
<g transform="translate(135 578) scale(2.4)"><use href="#s3" fill="#00EE70" transform="rotate(-60)"/><use href="#s3" fill="#FFFF00" transform="rotate(60)"/><use href="#s3" fill="#33C4A5" transform="rotate(180)"/></g>
<g transform="translate(45 568) scale(2)"><use href="#s2" fill="#C5AAE5" transform="rotate(-90)"/><use href="#s2" fill="#AAA000" transform="rotate(90)"/></g>
<circle class="H" cx="-51" cy="557" r="14"/><circle class="A" cx="82" cy="692" r="14"/><circle class="C" cx="223" cy="685" r="14"/>
</g>
<g class="lb">
<text class="lb" x="272" y="193">Hap_10</text><text class="lb" x="420" y="168">Hap_5</text>
<text class="lb" x="415" y="384">Hap_4</text><text class="lb" x="555" y="368">Hap_2</text>
<text class="lb" x="450" y="461">Hap_9</text><text class="lb" x="90" y="418">Hap_11</text>
<text class="lb" x="65" y="557">Hap_6</text><text class="lb" x="15" y="694">Hap_1</text>
<text class="lb" x="155" y="689">Hap_3</text><text class="lb" x="-100" y="561">Hap_8</text>
<text class="lb" x="-15" y="549">Hap_7</text>
</g>
</g>
<g id="net-nad9">
<g id="nad9-links">
<path class="e" d="M828,130L843,213M843,213L975,176M975,176L1066,138M843,213L774,287M690,250L774,287M774,287L727,488M727,488L838,530M727,488L650,565M650,565L593,572M650,565L682,647"/>
<path class="hm" d="M835,168L837,178M902,196L913,193M1013,160L1021,157M806,253L810,249M728,267L740,272M758,357L746,408M771,505L793,513M690,525L681,534M663,598L668,612"/>
</g>
<g class="nd">
<circle class="E" cx="828" cy="130" r="18"/><circle class="k" cx="843" cy="213" r="11"/>
<g transform="translate(975 176) scale(2.4)"><use href="#s2" fill="#DDF55A" transform="rotate(200)"/><use href="#s2" fill="#80AAF5" transform="rotate(20)"/></g>
<circle class="J" cx="1066" cy="138" r="18"/>
<g transform="translate(690 250) scale(2.4)"><use href="#s2" fill="#5A00EE" transform="rotate(200)"/><use href="#s2" fill="#00A8F0" transform="rotate(20)"/></g>
<circle class="k" cx="774" cy="287" r="11"/><circle class="H" cx="727" cy="488" r="18"/><circle class="N" cx="838" cy="530" r="18"/>
<circle class="k" cx="650" cy="565" r="11"/>
<g transform="translate(593 572) scale(4.5)"><use href="#s6" fill="#F55A5A"/><use href="#s6" fill="#FFFF00" transform="rotate(60)"/><use href="#s6" fill="#AAA000" transform="rotate(120)"/><use href="#s6" fill="#33C4A5" transform="rotate(180)"/><use href="#s6" fill="#C5AAE5" transform="rotate(240)"/><use href="#s6" fill="#E07DF0" transform="rotate(300)"/></g>
<circle class="F" cx="682" cy="647" r="18"/>
</g>
<g class="lb">
<text class="lb" transform="translate(795 192) rotate(-60)" text-anchor="middle">Hap_2</text>
<text class="lb" transform="translate(935 238) rotate(-60)" text-anchor="middle">Hap_3</text>
<text class="lb" transform="translate(1030 200) rotate(-60)" text-anchor="middle">Hap_5</text>
<text class="lb" transform="translate(645 310) rotate(-60)" text-anchor="middle">Hap_7</text>
<text class="lb" transform="translate(520 645) rotate(-60)" text-anchor="middle">Hap_1</text>
<text class="lb" transform="translate(645 710) rotate(-60)" text-anchor="middle">Hap_6</text>
<text class="lb" transform="translate(805 590) rotate(-60)" text-anchor="middle">Hap_8</text>
<text class="lb" transform="translate(695 545) rotate(-60)" text-anchor="middle">Hap_4</text>
</g>
</g>
</g>

<!-- ===== rps3, rps13 ===== -->
<g transform="translate(760 440) scale(0.333333)">
<g id="net-rps3">
<g id="rps3-links">
<path class="e" d="M235,106L262,170M262,170L274,220M274,220L322,370M322,370L408,312M322,370L322,457M322,457L475,456M322,457L270,612M270,612L177,625M177,625L120,629M120,629L84,567M120,629L50,650M120,629L96,727M270,612L310,655M310,655L423,688M310,655L328,703M328,703L430,735M328,703L326,833"/>
<path class="h" d="M281,242L310,332M343,355L382,329M322,409L322,418M337,457L460,456M309,496L286,565M233,617L214,620M154,627L143,628M109,610L95,592M106,633L78,642M114,653L103,699M338,663L395,680M359,713L389,722M328,722L326,813"/>
</g>
<g class="nd">
<circle class="F" cx="235" cy="106" r="10"/>
<g transform="translate(262 170) scale(2.2)"><use href="#s4" fill="#F55A5A"/><use href="#s4" fill="#FFFF00" transform="rotate(90)"/><use href="#s4" fill="#33C4A5" transform="rotate(180)"/><use href="#s4" fill="#C5AAE5" transform="rotate(270)"/></g>
<g transform="translate(274 220) scale(1.5)"><use href="#s2" fill="#E07DF0" transform="rotate(-90)"/><use href="#s2" fill="#AAA000" transform="rotate(90)"/></g>
<circle class="H" cx="408" cy="312" r="10"/><circle class="k" cx="322" cy="370" r="7"/><circle class="k" cx="322" cy="457" r="7"/>
<circle class="N" cx="475" cy="456" r="10"/><circle class="k" cx="270" cy="612" r="7"/>
<circle class="D" cx="84" cy="567" r="10"/><circle class="J" cx="50" cy="650" r="10"/><circle class="B" cx="96" cy="727" r="10"/>
<circle class="k" cx="120" cy="629" r="7"/><circle class="k" cx="177" cy="625" r="7"/><circle class="k" cx="310" cy="655" r="7"/><circle class="k" cx="328" cy="703" r="7"/>
<circle class="K" cx="423" cy="688" r="10"/><circle class="L" cx="430" cy="735" r="10"/><circle class="E" cx="326" cy="833" r="10"/>
</g>
<g class="lt">
<text class="lt" x="190" y="108">Hap_8</text><text class="lt" x="205" y="161">Hap_1</text>
<text class="lt" x="222" y="217">Hap_3</text><text class="lt" x="358" y="314">Hap_7</text>
<text class="lt" x="35" y="569">Hap_4</text><text class="lt" x="0" y="652">Hap_5</text>
<text class="lt" x="45" y="729">Hap_2</text><text class="lt" x="372" y="690">Hap_6</text>
<text class="lt" x="372" y="737">Hap_10</text><text class="lt" x="275" y="835">Hap_9</text>
</g>
</g>
<g id="net-rps13">
<g id="rps13-links">
<path class="e" d="M887,66L845,240M845,240L1028,215M845,240L773,345M773,345L688,292M773,345L751,535M751,535L636,503M751,535L668,632M751,535L820,648M820,648L1014,705M820,648L835,770"/>
<path class="hb" d="M866,150L865,154M920,230L950,226M809,293L812,289M730,319L738,324M761,443L763,456M688,518L693,519M706,588L710,583M786,593L789,598M898,671L942,684M827,710L829,720"/>
</g>
<g class="nd">
<use href="#p7" transform="translate(887 66) scale(5.7) rotate(257.14)"/>
<circle class="k" cx="845" cy="240" r="14"/><circle class="N" cx="1028" cy="215" r="21"/><circle class="H" cx="688" cy="292" r="21"/>
<circle class="k" cx="773" cy="345" r="14"/>
<use href="#kl" transform="translate(751 535) scale(3) rotate(-90)"/>
<circle class="D" cx="636" cy="503" r="21"/><circle class="J" cx="668" cy="632" r="21"/><circle class="k" cx="820" cy="648" r="14"/>
<circle class="E" cx="1014" cy="705" r="21"/><circle class="B" cx="835" cy="770" r="21"/>
</g>
<g class="lm">
<text class="lm" transform="translate(858 185) rotate(-90)" text-anchor="middle">Hap_1</text>
<text class="lm" transform="translate(1035 290) rotate(-90)" text-anchor="middle">Hap_8</text>
<text class="lm" transform="translate(693 370) rotate(-90)" text-anchor="middle">Hap_5</text>
<text class="lm" transform="translate(637 582) rotate(-90)" text-anchor="middle">Hap_3</text>
<text class="lm" transform="translate(745 617) rotate(-90)" text-anchor="middle">Hap_7</text>
<text class="lm" transform="translate(670 710) rotate(-90)" text-anchor="middle">Hap_6</text>
<text class="lm" transform="translate(1020 782) rotate(-90)" text-anchor="middle">Hap_4</text>
<text class="lm" transform="translate(837 850) rotate(-90)" text-anchor="middle">Hap_2</text>
</g>
</g>
</g>

<!-- species legend -->
<g id="legend" class="leg">
<circle class="A" cx="1152" cy="467.3" r="8"/><text x="1163" y="470.5">Alniaria alnifolia</text>
<circle class="B" cx="1152" cy="486" r="8"/><text x="1163" y="489.2">Argentina anserina</text>
<circle class="C" cx="1152" cy="504.8" r="8"/><text x="1163" y="508">Eriobotrya japonica</text>
<circle class="D" cx="1152" cy="523.6" r="8"/><text x="1163" y="526.8">Fragaria × ananassa</text>
<circle class="E" cx="1152" cy="542.3" r="8"/><text x="1163" y="545.5">Geum urbanum</text>
<circle class="F" cx="1152" cy="561.1" r="8"/><text x="1163" y="564.3">Malus domestica</text>
<circle class="G" cx="1152" cy="579.9" r="8"/><text x="1163" y="583.1">Photinia serratifolia</text>
<circle class="H" cx="1152" cy="598.6" r="8"/><text x="1163" y="601.8">Prunus armeniaca</text>
<circle class="I" cx="1152" cy="617.4" r="8"/><text x="1163" y="620.6">Pyrus betulifolia</text>
<circle class="J" cx="1152" cy="636.2" r="8"/><text x="1163" y="639.4">Rosa chinensis</text>
<circle class="K" cx="1152" cy="654.9" r="8"/><text x="1163" y="658.1">Rubus chingii</text>
<circle class="L" cx="1152" cy="673.7" r="8"/><text x="1163" y="676.9">Rubus chingii var. suavissimus</text>
<circle class="M" cx="1152" cy="692.4" r="8"/><text x="1163" y="695.6">Sorbus aucuparia</text>
<circle class="N" cx="1152" cy="711.2" r="8"/><text x="1163" y="714.4">Spiraea chinensis</text>
<circle class="O" cx="1152" cy="730" r="8"/><text x="1163" y="733.2">Torminalis glaberrima</text>
</g>

<!-- caption -->
<g id="caption">
<text class="cap1" x="18" y="772">FIGURE 2</text>
<text class="cap2" x="18" y="796" textLength="1240" lengthAdjust="spacingAndGlyphs">Haplotype network analysis of 22 shared protein-coding sequences from 15 Rosaceae mitogenomes. Different species are given different colors.</text>
</g>
</svg>
